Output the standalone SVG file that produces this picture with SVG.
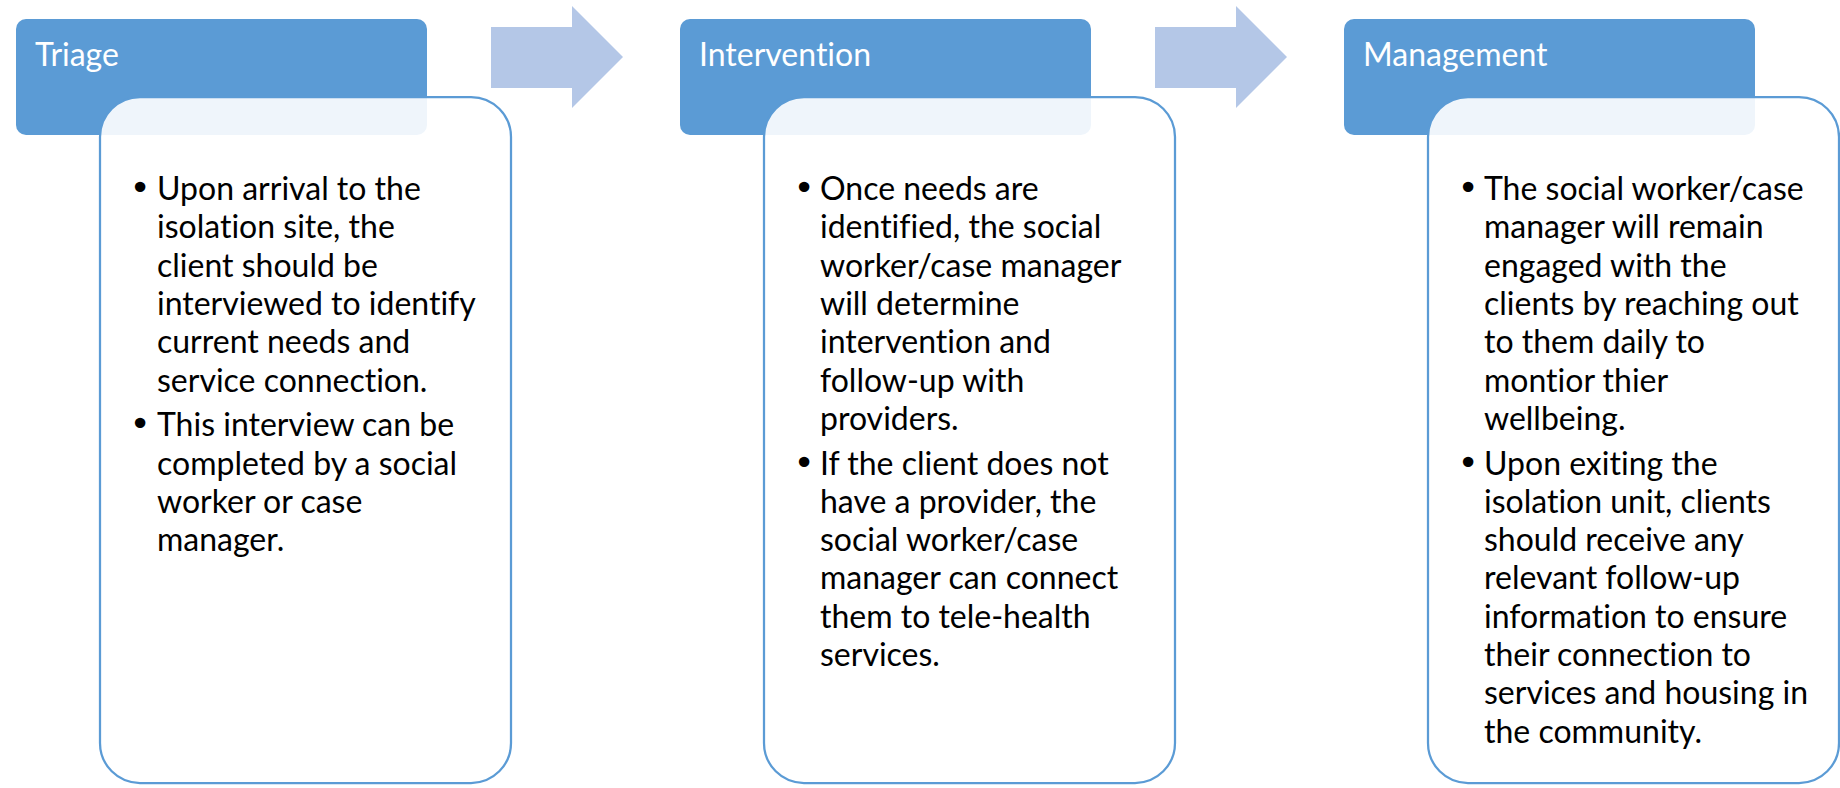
<svg xmlns="http://www.w3.org/2000/svg" width="1840" height="788" viewBox="0 0 1840 788">
  <style>
    .hdr { fill: #5B9BD5; }
    .hdr-label { font-family: Lato, "Liberation Sans", sans-serif; font-size: 32px; fill: #FFFFFF; font-variant-ligatures: none; }
    .card { fill: #FFFFFF; fill-opacity: 0.9; stroke: #5B9BD5; stroke-width: 2.25; }
    .body-text { font-family: Lato, "Liberation Sans", sans-serif; font-size: 32px; fill: #000000; font-variant-ligatures: none; }
    .bullet { font-family: "DejaVu Sans", sans-serif; font-size: 36px; fill: #000000; text-anchor: middle; }
    .step-arrow { fill: #B4C7E7; }
  </style>

  <!-- step arrows between stages -->
  <g id="connectors">
    <path class="step-arrow" d="M491,27 H572 V6 L623,57 L572,108 V88 H491 Z"/>
    <path class="step-arrow" d="M1155,27 H1236 V6 L1287,57 L1236,108 V88 H1155 Z"/>
  </g>

  <!-- Stage 1: Triage -->
  <g id="triage-header">
    <rect class="hdr" x="16" y="19" width="411" height="116" rx="10"/>
    <text class="hdr-label" x="35" y="66">Triage</text>
  </g>
  <g id="triage-card">
    <rect class="card" x="100" y="97" width="411" height="686" rx="40"/>
    <text class="bullet" x="140" y="200">•</text>
    <text class="body-text" x="157" y="200">
      <tspan x="157" dy="0">Upon arrival to the</tspan>
      <tspan x="157" dy="38.3">isolation site, the</tspan>
      <tspan x="157" dy="38.3">client should be</tspan>
      <tspan x="157" dy="38.3">interviewed to identify</tspan>
      <tspan x="157" dy="38.3">current needs and</tspan>
      <tspan x="157" dy="38.3">service connection.</tspan>
    </text>
    <text class="bullet" x="140" y="436.2">•</text>
    <text class="body-text" x="157" y="436.2">
      <tspan x="157" dy="0">This interview can be</tspan>
      <tspan x="157" dy="38.3">completed by a social</tspan>
      <tspan x="157" dy="38.3">worker or case</tspan>
      <tspan x="157" dy="38.3">manager.</tspan>
    </text>
  </g>

  <!-- Stage 2: Intervention -->
  <g id="intervention-header">
    <rect class="hdr" x="680" y="19" width="411" height="116" rx="10"/>
    <text class="hdr-label" x="699" y="66">Intervention</text>
  </g>
  <g id="intervention-card">
    <rect class="card" x="764" y="97" width="411" height="686" rx="40"/>
    <text class="bullet" x="804" y="200">•</text>
    <text class="body-text" x="820" y="200">
      <tspan x="820" dy="0">Once needs are</tspan>
      <tspan x="820" dy="38.3">identified, the social</tspan>
      <tspan x="820" dy="38.3">worker/case manager</tspan>
      <tspan x="820" dy="38.3">will determine</tspan>
      <tspan x="820" dy="38.3">intervention and</tspan>
      <tspan x="820" dy="38.3">follow-up with</tspan>
      <tspan x="820" dy="38.3">providers.</tspan>
    </text>
    <text class="bullet" x="804" y="474.5">•</text>
    <text class="body-text" x="820" y="474.5">
      <tspan x="820" dy="0">If the client does not</tspan>
      <tspan x="820" dy="38.3">have a provider, the</tspan>
      <tspan x="820" dy="38.3">social worker/case</tspan>
      <tspan x="820" dy="38.3">manager can connect</tspan>
      <tspan x="820" dy="38.3">them to tele-health</tspan>
      <tspan x="820" dy="38.3">services.</tspan>
    </text>
  </g>

  <!-- Stage 3: Management -->
  <g id="management-header">
    <rect class="hdr" x="1344" y="19" width="411" height="116" rx="10"/>
    <text class="hdr-label" x="1363" y="66">Management</text>
  </g>
  <g id="management-card">
    <rect class="card" x="1428" y="97" width="411" height="686" rx="40"/>
    <text class="bullet" x="1468" y="200">•</text>
    <text class="body-text" x="1484" y="200">
      <tspan x="1484" dy="0">The social worker/case</tspan>
      <tspan x="1484" dy="38.3">manager will remain</tspan>
      <tspan x="1484" dy="38.3">engaged with the</tspan>
      <tspan x="1484" dy="38.3">clients by reaching out</tspan>
      <tspan x="1484" dy="38.3">to them daily to</tspan>
      <tspan x="1484" dy="38.3">montior thier</tspan>
      <tspan x="1484" dy="38.3">wellbeing.</tspan>
    </text>
    <text class="bullet" x="1468" y="474.5">•</text>
    <text class="body-text" x="1484" y="474.5">
      <tspan x="1484" dy="0">Upon exiting the</tspan>
      <tspan x="1484" dy="38.3">isolation unit, clients</tspan>
      <tspan x="1484" dy="38.3">should receive any</tspan>
      <tspan x="1484" dy="38.3">relevant follow-up</tspan>
      <tspan x="1484" dy="38.3">information to ensure</tspan>
      <tspan x="1484" dy="38.3">their connection to</tspan>
      <tspan x="1484" dy="38.3">services and housing in</tspan>
      <tspan x="1484" dy="38.3">the community.</tspan>
    </text>
  </g>
</svg>
